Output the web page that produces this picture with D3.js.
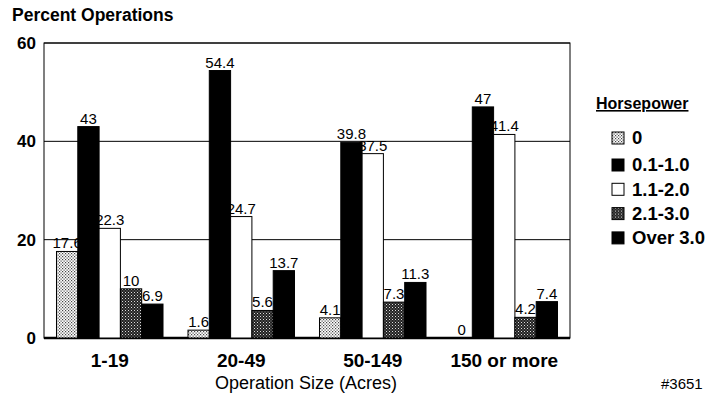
<!DOCTYPE html>
<html>
<head>
<meta charset="utf-8">
<script src="https://cdn.jsdelivr.net/npm/d3@7"></script>
<style>
  body { margin: 0; background: #fff; }
  text { font-family: Arial, "Liberation Sans", sans-serif; fill: #000; }
</style>
</head>
<body>
<div id="chart"></div>
<script>
// data
const categories = ['1-19', '20-49', '50-149', '150 or more'];
const seriesNames = ['0', '0.1-1.0', '1.1-2.0', '2.1-3.0', 'Over 3.0'];
const hp0 = [17.6, 1.6, 4.1, 0];
const hp01to10 = [43, 54.4, 39.8, 47];
const hp11to20 = [22.3, 24.7, 37.5, 41.4];
const hp21to30 = [10, 5.6, 7.3, 4.2];
const hpOver3 = [6.9, 13.7, 11.3, 7.4];
const yTicks = [0, 20, 40, 60];

const seriesValues = [hp0, hp01to10, hp11to20, hp21to30, hpOver3];
const fills = ['url(#dotsLight)', '#000', '#fff', 'url(#dotsDark)', '#000'];

const W = 712, H = 400;
const margin = {top: 43, right: 142, bottom: 62, left: 44};
const width = W - margin.left - margin.right;
const height = H - margin.top - margin.bottom;

const svg = d3.select('#chart').append('svg')
    .attr('width', W).attr('height', H);

// fill patterns
const defs = svg.append('defs');
const p1 = defs.append('pattern').attr('id', 'dotsLight')
    .attr('width', 3).attr('height', 3).attr('patternUnits', 'userSpaceOnUse');
p1.append('rect').attr('width', 3).attr('height', 3).attr('fill', '#fff');
p1.append('rect').attr('width', 1.2).attr('height', 1.2).attr('fill', '#444');
p1.append('rect').attr('x', 1.5).attr('y', 1.5).attr('width', 1.2).attr('height', 1.2).attr('fill', '#444');
const p2 = defs.append('pattern').attr('id', 'dotsDark')
    .attr('width', 3).attr('height', 3).attr('patternUnits', 'userSpaceOnUse');
p2.append('rect').attr('width', 3).attr('height', 3).attr('fill', '#222');
p2.append('rect').attr('width', 1).attr('height', 1).attr('fill', '#ddd');
p2.append('rect').attr('x', 1.5).attr('y', 1.5).attr('width', 1).attr('height', 1).attr('fill', '#999');

const g = svg.append('g').attr('transform', `translate(${margin.left},${margin.top})`);

const x0 = d3.scaleBand().domain(categories).range([0, width]).paddingInner(0.19).paddingOuter(0.095);
const x1 = d3.scaleBand().domain(seriesNames).range([0, x0.bandwidth()]);
const y = d3.scaleLinear().domain([0, 60]).range([height, 0]);

// gridlines
g.selectAll('.grid').data(yTicks.filter(d => d > 0)).join('line')
    .attr('x1', 0).attr('x2', width)
    .attr('y1', d => y(d)).attr('y2', d => y(d))
    .attr('stroke', '#000').attr('stroke-width', 1);

// frame
g.append('rect').attr('width', width).attr('height', height)
    .attr('fill', 'none').attr('stroke', '#000').attr('stroke-width', 1);
g.append('line').attr('x1', 0).attr('x2', width).attr('y1', height).attr('y2', height)
    .attr('stroke', '#000').attr('stroke-width', 2.5);

// y tick labels
g.selectAll('.ytick').data(yTicks).join('text')
    .attr('x', -8).attr('y', d => y(d)).attr('dy', '0.35em')
    .attr('text-anchor', 'end')
    .style('font-size', '17px').style('font-weight', 'bold')
    .text(d => d);

const flat = [];
seriesNames.forEach((s, si) => {
  categories.forEach((c, ci) => flat.push({s, si, c, v: seriesValues[si][ci]}));
});

// value labels first, bars drawn on top of them
g.selectAll('.lbl').data(flat).join('text')
    .attr('x', d => x0(d.c) + x1(d.s) + x1.bandwidth() / 2)
    .attr('y', d => y(d.v) - 3)
    .attr('text-anchor', 'middle')
    .style('font-size', '15px')
    .text(d => d.v);

g.selectAll('.bar').data(flat.filter(d => d.v > 0)).join('rect')
    .attr('x', d => x0(d.c) + x1(d.s))
    .attr('y', d => y(d.v))
    .attr('width', x1.bandwidth())
    .attr('height', d => height - y(d.v))
    .attr('fill', d => fills[d.si])
    .attr('stroke', '#000').attr('stroke-width', 1);

// x category labels
g.selectAll('.xl').data(categories).join('text')
    .attr('x', d => x0(d) + x0.bandwidth() / 2)
    .attr('y', height + 29)
    .attr('text-anchor', 'middle')
    .style('font-size', '19px').style('font-weight', 'bold')
    .text(d => d);

// titles
svg.append('text').attr('x', 12).attr('y', 21)
    .style('font-size', '17.5px').style('font-weight', 'bold')
    .text('Percent Operations');
svg.append('text').attr('x', 306).attr('y', 389)
    .attr('text-anchor', 'middle').style('font-size', '18px')
    .text('Operation Size (Acres)');
svg.append('text').attr('x', 661).attr('y', 389)
    .style('font-size', '15px')
    .text('#3651');

// legend
const lg = svg.append('g').attr('transform', 'translate(596,0)');
lg.append('text').attr('x', 0).attr('y', 109)
    .style('font-size', '16px').style('font-weight', 'bold')
    .style('text-decoration', 'underline')
    .text('Horsepower');
const items = lg.selectAll('.li').data(seriesNames).join('g')
    .attr('transform', (d, i) => `translate(16,${i === 0 ? 138 : 165 + (i - 1) * 24.3})`);
items.append('rect').attr('x', 0).attr('y', -6).attr('width', 12).attr('height', 12)
    .attr('fill', (d, i) => fills[i]).attr('stroke', '#000').attr('stroke-width', 1);
items.append('text').attr('x', 20).attr('y', 0).attr('dy', '0.35em')
    .style('font-size', '18.5px').style('font-weight', 'bold')
    .text(d => d);
</script>
</body>
</html>
